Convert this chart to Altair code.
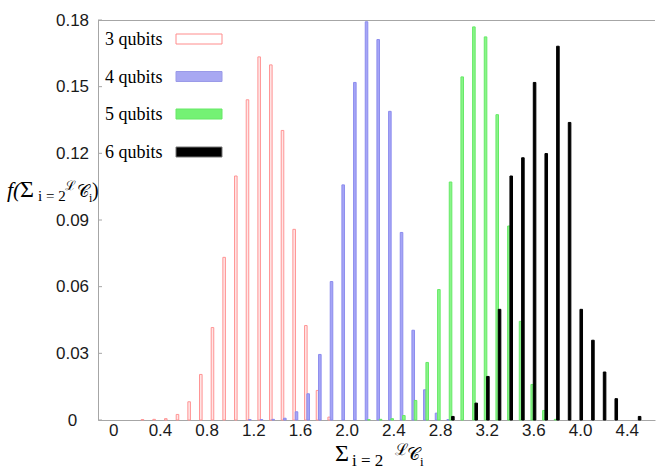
import altair as alt
import pandas as pd

# Relative frequency of the summed coherence, one histogram per register size
SERIES = ["3 qubits", "4 qubits", "5 qubits", "6 qubits"]

BINS_3 = [0.2, 0.3, 0.4, 0.5, 0.6, 0.7, 0.8, 0.9, 1.0, 1.1, 1.2, 1.3, 1.4, 1.5, 1.6, 1.7, 1.8]
FREQ_3 = [0.0002, 0.0003, 0.0006, 0.0025, 0.0082, 0.0205, 0.0416, 0.0732, 0.1098,
          0.1441, 0.1634, 0.1598, 0.1303, 0.0858, 0.0425, 0.0133, 0.0013]

BINS_4 = [1.1, 1.2, 1.3, 1.4, 1.5, 1.6, 1.7, 1.8, 1.9, 2.0, 2.1, 2.2, 2.3, 2.4, 2.5, 2.6, 2.7, 2.8]
FREQ_4 = [0.0002, 0.0002, 0.0003, 0.0008, 0.0037, 0.0118, 0.0295, 0.0623, 0.1058,
          0.1519, 0.1792, 0.1712, 0.1389, 0.0844, 0.0404, 0.0136, 0.0031, 0.0002]

BINS_5 = [2.1, 2.2, 2.3, 2.4, 2.5, 2.6, 2.7, 2.8, 2.9, 3.0, 3.1, 3.2, 3.3, 3.4, 3.5, 3.6, 3.7]
FREQ_5 = [0.0002, 0.0003, 0.0006, 0.0020, 0.0088, 0.0259, 0.0587, 0.1071, 0.1544,
          0.1769, 0.1724, 0.1374, 0.0873, 0.0444, 0.0160, 0.0043, 0.0003]

BINS_6 = [2.8, 3.0, 3.1, 3.2, 3.3, 3.4, 3.5, 3.6, 3.7, 3.8, 3.9, 4.0, 4.1, 4.2, 4.4]
FREQ_6 = [0.0016, 0.0076, 0.0196, 0.0498, 0.1098, 0.1180, 0.1519, 0.1199, 0.1682,
          0.1339, 0.0498, 0.0359, 0.0216, 0.0096, 0.0016]

X_TICKS = [0, 0.4, 0.8, 1.2, 1.6, 2.0, 2.4, 2.8, 3.2, 3.6, 4.0, 4.4]
Y_TICKS = [0, 0.03, 0.06, 0.09, 0.12, 0.15, 0.18]

FILLS = ["#ffe6e6", "#a6a6f6", "#8af48a", "#000000"]
STROKES = ["#ff9494", "#8c8cee", "#66ea66", "#000000"]
BOX_FILLS = ["#ffffff", "#a8a8f2", "#74f274", "#000000"]
BOX_STROKES = ["#ff8c8c", "#9a9ae8", "#66e866", "#777777"]

W, H = 557, 400
AXIS_GREY = "#a6a6a6"
SERIF = "Liberation Serif"

# clustered histogram: four bars per 0.1-wide bin, each 0.02 wide
rows = []
for i, (name, bins, freq) in enumerate(zip(SERIES, [BINS_3, BINS_4, BINS_5, BINS_6],
                                           [FREQ_3, FREQ_4, FREQ_5, FREQ_6])):
    for b, f in zip(bins, freq):
        c = round(b, 1) + 0.05 + 0.02 * i
        rows.append({"series": name, "x0": c - 0.011, "x1": c + 0.011, "freq": f, "zero": 0.0})
df = pd.DataFrame(rows)

x_scale = alt.Scale(domain=[-0.131, 4.642], nice=False, zero=False)
y_scale = alt.Scale(domain=[0, 0.18], nice=False)

y_axis = alt.Axis(values=Y_TICKS, title=None, labelAlign="center", labelPadding=26,
                  labelBaseline="middle",
                  labelExpr="datum.value == 0 ? '0\u00a0\u00a0' : format(datum.value, '.2f')")

bars = alt.Chart(df).mark_rect(strokeWidth=1).encode(
    x=alt.X("x0:Q", scale=x_scale,
            axis=alt.Axis(values=X_TICKS, title=None, labelPadding=2,
                          labelExpr="datum.value == 0 ? '0' : format(datum.value, '.1f')")),
    x2="x1:Q",
    y=alt.Y("freq:Q", scale=y_scale, axis=y_axis),
    y2="zero:Q",
    fill=alt.Fill("series:N", scale=alt.Scale(domain=SERIES, range=FILLS), legend=None),
    stroke=alt.Stroke("series:N", scale=alt.Scale(domain=SERIES, range=STROKES), legend=None),
    order=alt.Order("series:N"),
)

# short inward ticks on the left axis
tick_df = pd.DataFrame({"freq": Y_TICKS})
yticks = alt.Chart(tick_df).mark_rule(color=AXIS_GREY, strokeWidth=1).encode(
    y=alt.Y("freq:Q", scale=y_scale, axis=y_axis),
    x=alt.value(0), x2=alt.value(4),
)

anchor = alt.Data(values=[{"a": 0}])

top_border = alt.Chart(anchor).mark_rule(color=AXIS_GREY, strokeWidth=1).encode(
    x=alt.value(0), x2=alt.value(W), y=alt.value(0.5)
)


def piece(txt, x, y, size, style="normal"):
    return alt.Chart(anchor).mark_text(
        text=txt, font=SERIF, fontSize=size, fontStyle=style, align="left",
        baseline="alphabetic", color="black"
    ).encode(x=alt.value(x), y=alt.value(y))


# y-axis title: f(Σ_{i=2}^{L} C_i)
y_title = [
    piece("f(", -91, 177, 22, "italic"),
    piece("Σ", -78, 177, 24),
    piece("i = 2", -60, 181, 15),
    piece("ℒ", -33, 170, 13),
    piece("𝒞", -21, 177, 17),
    piece("i", -9, 182, 12),
    piece(")", -6, 177, 20),
]

# x-axis title: Σ_{i=2}^{L} C_i
x_title = [
    piece("Σ", 237, 441, 24),
    piece("i = 2", 254, 446, 17),
    piece("ℒ", 297, 435, 16),
    piece("𝒞", 309, 440, 18),
    piece("i", 322, 446, 13),
]

# legend inside the plot, top left: label then swatch
ROW_Y = [19, 56.5, 94, 132]
legend = []
for name, fill, stroke, ry in zip(SERIES, BOX_FILLS, BOX_STROKES, ROW_Y):
    legend.append(
        alt.Chart(anchor).mark_text(text=name, font=SERIF, fontSize=18, align="left",
                                    baseline="middle", color="black")
        .encode(x=alt.value(7), y=alt.value(ry + 1))
    )
    legend.append(
        alt.Chart(anchor).mark_rect(fill=fill, stroke=stroke, strokeWidth=1)
        .encode(x=alt.value(78), x2=alt.value(124), y=alt.value(ry - 5), y2=alt.value(ry + 5))
    )

chart = alt.layer(bars, yticks, top_border, *legend, *y_title, *x_title).properties(
    width=W, height=H,
    autosize=alt.AutoSizeParams(type="none"),
    padding={"left": 98, "top": 20, "right": 1, "bottom": 50},
).configure_view(stroke=None).configure_axis(
    grid=False, domainColor=AXIS_GREY, domainWidth=1, ticks=False, tickSize=0,
    labelFont="Liberation Sans", labelFontSize=17, labelColor="#1a1a1a",
)

chart.save("out.html", embed_options={"renderer": "svg", "actions": False})
